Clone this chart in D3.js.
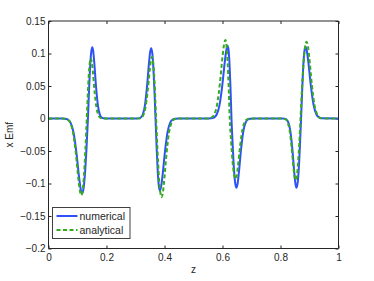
<!DOCTYPE html>
<html><head><meta charset="utf-8">
<script src="https://cdn.jsdelivr.net/npm/d3@7"></script>
<style>body{margin:0;background:#fff}text{font-family:"Liberation Sans",Arial,sans-serif;fill:#262626}</style>
</head><body><svg id="c" width="374" height="281"></svg>
<script>
const xTicks=[0,0.2,0.4,0.6,0.8,1];
const yTicks=[-0.2,-0.15,-0.1,-0.05,0,0.05,0.1,0.15];
const seriesNames=["numerical","analytical"];
const numericalZ=[0,
0.046,0.056,0.066,0.076,0.086,0.096,0.106,0.111,0.116,0.121,0.126,0.131,0.136,
0.1398,0.1435,0.1473,0.151,0.1543,0.1575,0.164,0.1705,0.177,0.1835,0.19,0.2,
0.3033,0.3105,0.3178,0.325,0.3323,0.3395,0.3468,0.3504,0.354,0.3578,0.3615,0.3653,0.369,
0.3728,0.3765,0.3803,0.384,0.3885,0.393,0.402,0.411,0.42,0.429,0.438,0.45,
0.5515,0.561,0.5705,0.58,0.5895,0.599,0.6085,0.6133,0.618,0.6213,0.6245,0.6278,0.631,
0.6353,0.6395,0.6438,0.648,0.652,0.656,0.664,0.672,0.68,0.688,0.696,0.71,
0.806,0.813,0.82,0.827,0.834,0.841,0.848,0.8515,0.855,0.859,0.863,0.867,0.871,
0.8748,0.8785,0.8823,0.886,0.8908,0.8955,0.905,0.9145,0.924,0.9335,0.943,1];
const numericalV=[0,
0,-0.0002,-0.0015,-0.0063,-0.0208,-0.0513,-0.0923,-0.1086,-0.115,-0.1073,-0.0837,-0.046,0,
0.0438,0.0797,0.1022,0.1095,0.1034,0.0879,0.0488,0.0198,0.006,0.0014,0.0002,0,
0,0.0002,0.0014,0.0059,0.0195,0.0482,0.0867,0.102,0.108,0.1008,0.0786,0.0432,0,
-0.0442,-0.0804,-0.1031,-0.1105,-0.1043,-0.0887,-0.0493,-0.02,-0.0061,-0.0014,-0.0002,0,
0,0.0002,0.0014,0.0061,0.0202,0.0497,0.0895,0.1053,0.1115,0.104,0.0812,0.0446,0,
-0.0426,-0.0775,-0.0993,-0.1064,-0.1004,-0.0854,-0.0475,-0.0193,-0.0059,-0.0014,-0.0002,0,
0,-0.0002,-0.0014,-0.0059,-0.0193,-0.0475,-0.0854,-0.1004,-0.1064,-0.0993,-0.0775,-0.0426,0,
0.0442,0.0804,0.103,0.1104,0.1042,0.0887,0.0492,0.02,0.0061,0.0014,0.0002,0];
const analyticalZ=[0,
0.0465,0.056,0.0655,0.075,0.0845,0.094,0.1035,0.1083,0.113,0.1178,0.1225,0.1273,0.132,
0.1355,0.139,0.1425,0.146,0.1493,0.1525,0.159,0.1655,0.172,0.1785,0.185,0.2,
0.3045,0.312,0.3195,0.327,0.3345,0.342,0.3495,0.3533,0.357,0.3605,0.364,0.3675,0.371,
0.3758,0.3805,0.3853,0.39,0.3943,0.3985,0.407,0.4155,0.424,0.4325,0.441,0.45,
0.5435,0.553,0.5625,0.572,0.5815,0.591,0.6005,0.6053,0.61,0.6138,0.6175,0.6213,0.625,
0.63,0.635,0.64,0.645,0.649,0.653,0.661,0.669,0.677,0.685,0.693,0.71,
0.803,0.81,0.817,0.824,0.831,0.838,0.845,0.8485,0.852,0.8563,0.8605,0.8648,0.869,
0.8743,0.8795,0.8848,0.89,0.8945,0.899,0.908,0.917,0.926,0.935,0.944,1];
const analyticalV=[0,
0,-0.0002,-0.0015,-0.0065,-0.0214,-0.0526,-0.0948,-0.1114,-0.118,-0.1101,-0.0859,-0.0472,0,
0.037,0.0673,0.0863,0.0925,0.0873,0.0743,0.0413,0.0167,0.0051,0.0012,0.0002,0,
0,0.0002,0.0012,0.0052,0.0172,0.0424,0.0763,0.0897,0.095,0.0886,0.0692,0.038,0,
-0.0484,-0.0881,-0.1129,-0.121,-0.1142,-0.0972,-0.054,-0.0219,-0.0067,-0.0016,-0.0002,0,
0,0.0002,0.0016,0.0066,0.0218,0.0538,0.0969,0.1139,0.1207,0.1126,0.0879,0.0483,0,
-0.0372,-0.0677,-0.0868,-0.093,-0.0878,-0.0747,-0.0415,-0.0168,-0.0051,-0.0012,-0.0002,0,
0,-0.0002,-0.0012,-0.0052,-0.0172,-0.0424,-0.0763,-0.0897,-0.095,-0.0886,-0.0692,-0.038,0,
0.0472,0.0859,0.1101,0.118,0.1114,0.0948,0.0526,0.0214,0.0065,0.0015,0.0002,0];

const W=374,H=281;
const m={l:48.5,r:338.5,t:21,b:248.5};
const svg=d3.select("#c");
svg.append("rect").attr("width",W).attr("height",H).attr("fill","#fff");
const x=d3.scaleLinear().domain([0,1]).range([m.l,m.r]);
const y=d3.scaleLinear().domain([-0.2,0.15]).range([m.b,m.t]);
const fmt=d3.format("~g");

const gx=svg.append("g").attr("transform",`translate(0,${m.b})`)
  .call(d3.axisBottom(x).tickValues(xTicks).tickFormat(fmt).tickSizeInner(-3).tickSizeOuter(0).tickPadding(5));
const gxt=svg.append("g").attr("transform",`translate(0,${m.t})`)
  .call(d3.axisTop(x).tickValues(xTicks).tickFormat("").tickSizeInner(-3).tickSizeOuter(0));
const gy=svg.append("g").attr("transform",`translate(${m.l},0)`)
  .call(d3.axisLeft(y).tickValues(yTicks).tickFormat(fmt).tickSizeInner(-3).tickSizeOuter(0).tickPadding(3));
const gyr=svg.append("g").attr("transform",`translate(${m.r},0)`)
  .call(d3.axisRight(y).tickValues(yTicks).tickFormat("").tickSizeInner(-3).tickSizeOuter(0));
[gx,gxt,gy,gyr].forEach(g=>{g.select(".domain").remove();g.selectAll("line").attr("stroke","#262626");
  g.selectAll("text").attr("font-size",10).attr("fill","#262626").attr("font-family","Liberation Sans, Arial, sans-serif");});

const line=d3.line().x(d=>x(d[0])).y(d=>y(d[1])).curve(d3.curveMonotoneX);
const numData=numericalZ.map((z,i)=>[z,numericalV[i]]);
const anaData=analyticalZ.map((z,i)=>[z,analyticalV[i]]);
const clip=svg.append("clipPath").attr("id","cp").append("rect").attr("x",m.l).attr("y",m.t).attr("width",m.r-m.l).attr("height",m.b-m.t);
const plot=svg.append("g").attr("clip-path","url(#cp)");
plot.append("path").datum(numData).attr("d",line).attr("fill","none").attr("stroke","#2f52f7").attr("stroke-width",2);
plot.append("path").datum(anaData).attr("d",line).attr("fill","none").attr("stroke","#34ab1f").attr("stroke-width",2).attr("stroke-dasharray","4,2.5");

// box
svg.append("line").attr("x1",m.l).attr("x2",m.r).attr("y1",m.b).attr("y2",m.b).attr("stroke","#262626");
svg.append("line").attr("x1",m.l).attr("x2",m.r).attr("y1",m.t).attr("y2",m.t).attr("stroke","#262626");
svg.append("line").attr("x1",m.l).attr("x2",m.l).attr("y1",m.t).attr("y2",m.b).attr("stroke","#262626");
svg.append("line").attr("x1",m.r).attr("x2",m.r).attr("y1",m.t).attr("y2",m.b).attr("stroke","#262626");

// labels
svg.append("text").attr("x",(m.l+m.r)/2).attr("y",273).attr("text-anchor","middle").attr("font-size",10).text("z");
svg.append("text").attr("transform",`translate(13,${(m.t+m.b)/2}) rotate(-90)`).attr("text-anchor","middle").attr("font-size",10).text("x Emf");

// legend
const lg=svg.append("g");
lg.append("rect").attr("x",52.5).attr("y",207.5).attr("width",77.5).attr("height",31).attr("fill","#fff").attr("stroke","#404040");
const colors=["#2f52f7","#34ab1f"],dashes=[null,"4,2.5"];
seriesNames.forEach((n,i)=>{
  const yy=216+i*14;
  lg.append("line").attr("x1",56.5).attr("x2",77.5).attr("y1",yy).attr("y2",yy).attr("stroke",colors[i]).attr("stroke-width",2).attr("stroke-dasharray",dashes[i]);
  lg.append("text").attr("x",79.5).attr("y",yy+3.5).attr("font-size",10.5).text(n);
});
</script></body></html>
